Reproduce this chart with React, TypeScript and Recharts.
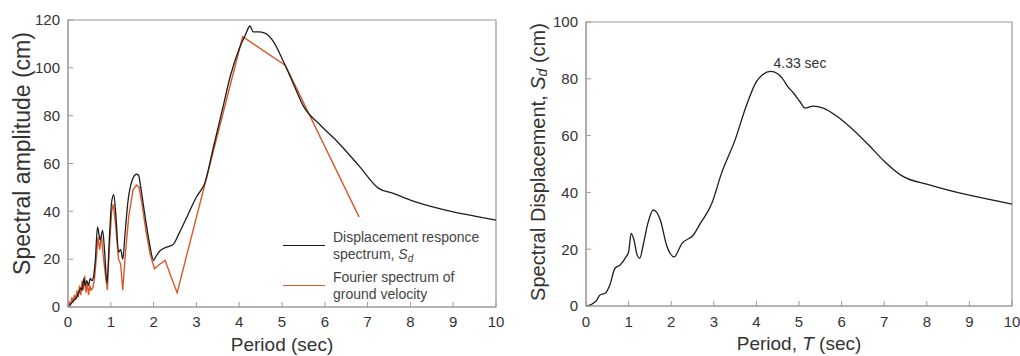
import React from 'react';
import { LineChart, Line, XAxis, YAxis, ReferenceArea, ReferenceDot, Legend } from 'recharts';

// shared period axis
const periodTicks = [0, 1, 2, 3, 4, 5, 6, 7, 8, 9, 10];
const amplitudeTicks = [0, 20, 40, 60, 80, 100, 120];
const displacementTicks = [0, 20, 40, 60, 80, 100];

// left panel: displacement response spectrum (black)
const responsePeriods = [
  0, 0.05, 0.1, 0.15, 0.2, 0.25, 0.3, 0.33, 0.37, 0.4, 0.44, 0.48, 0.52, 0.56, 0.6, 0.64,
  0.69, 0.75, 0.81, 0.86, 0.91, 0.97, 1.02, 1.07, 1.12, 1.18, 1.23, 1.28, 1.33, 1.4, 1.5,
  1.6, 1.65, 1.7, 1.8, 1.9, 2.0, 2.05, 2.15, 2.3, 2.45, 2.6, 2.8, 3.0, 3.2, 3.4, 3.6, 3.8,
  4.0, 4.15, 4.25, 4.33, 4.45, 4.6, 4.8, 5.05, 5.25, 5.5, 5.9, 6.3, 6.8, 7.25, 7.6, 8.0,
  8.5, 9.0, 9.5, 10,
];
const responseAmplitudes = [
  0, 1, 2, 3, 4, 6, 8, 7, 12, 9, 11, 9, 12, 11, 13, 20,
  33.5, 28, 32, 22, 10, 30, 44, 47, 38, 23, 24, 20, 30, 44, 53,
  55.5, 55, 50, 38, 27, 19.5, 21, 23.5, 25, 26, 31, 38.5, 46, 52, 67, 82, 97,
  108, 114, 117.5, 115, 115, 114.5, 111, 102, 94, 84, 76, 69, 59, 49.7, 47.5, 44.7,
  42, 39.8, 38, 36.3,
];

// left panel: Fourier spectrum of ground velocity (orange)
const fourierPeriods = [
  0, 0.03, 0.06, 0.09, 0.12, 0.15, 0.18, 0.21, 0.24, 0.27, 0.3, 0.33, 0.36, 0.39, 0.42,
  0.45, 0.48, 0.51, 0.54, 0.58, 0.62, 0.66, 0.7, 0.74, 0.78, 0.82, 0.87, 0.92, 0.97, 1.02,
  1.06, 1.12, 1.18, 1.23, 1.28, 1.34, 1.42, 1.52, 1.6, 1.66, 1.72, 1.82, 1.92, 2.02, 2.15,
  2.27, 2.4, 2.55, 4.08, 5.08, 6.8,
];
const fourierAmplitudes = [
  0, 2, 1, 4, 2, 5, 3, 7, 4, 9, 5, 11, 7, 13, 6,
  10, 5, 9, 7, 8, 12, 20, 29, 24, 30, 22, 14, 7, 26, 40,
  43, 33, 20, 18, 7, 22, 38, 49, 51, 50, 44, 32, 22, 16, 18,
  19.5, 13, 6, 113, 101, 37.7,
];

// right panel: spectral displacement Sd
const sdPeriods = [
  0, 0.12, 0.25, 0.33, 0.45, 0.56, 0.68, 0.8, 0.94, 1.0, 1.06, 1.13, 1.2, 1.26, 1.35, 1.45,
  1.58, 1.66, 1.75, 1.89, 2.07, 2.25, 2.52, 2.68, 2.95, 3.18, 3.5, 3.77, 4.0, 4.15, 4.33,
  4.5, 4.6, 4.75, 4.87, 5.02, 5.14, 5.33, 5.57, 5.96, 6.59, 7.0, 7.4, 8.08, 9.0, 10,
];
const sdValues = [
  0, 0.5, 2, 3.9, 4.5, 7.4, 13.3, 14.4, 17.3, 19, 25.6, 23, 18, 16.8, 22, 29,
  33.8, 33, 30, 21.5, 17.3, 22, 25, 29, 36, 46.7, 58.5, 70.8, 79, 81.5, 82.6,
  81.8, 80.3, 77, 75, 72, 69.7, 70.4, 69.7, 66, 57.4, 51, 46, 42.6, 39, 35.9,
];
const peakPeriod = 4.33;
const peakValue = 82.6;

const toPoints = (periods: number[], values: number[]) =>
  periods.map((period, i) => ({ period, value: values[i] }));

const responseData = toPoints(responsePeriods, responseAmplitudes);
const fourierData = toPoints(fourierPeriods, fourierAmplitudes);
const sdData = toPoints(sdPeriods, sdValues);

const FONT = '"Liberation Sans", Arial, Helvetica, sans-serif';
const FRAME = '#9a9a9a';
const TEXT = '#333';
const BLACK = '#1e1e1e';
const ORANGE = '#d9582b';

const tickStyle = { fill: TEXT, fontSize: 15, fontFamily: FONT };

const legendItems = [
  { color: BLACK, lines: ['Displacement responce', 'spectrum, '], sub: true },
  { color: ORANGE, lines: ['Fourier spectrum of', 'ground velocity'], sub: false },
];

function SpectrumLegend() {
  return (
    <div style={{ fontFamily: FONT, fontSize: 14, lineHeight: '16.5px', color: '#444' }}>
      {legendItems.map((item, i) => (
        <div key={i} style={{ display: 'flex', alignItems: 'center', marginBottom: 7 }}>
          <div style={{ width: 42, height: 0, borderTop: `1.3px solid ${item.color}`, marginRight: 8 }} />
          <div>
            {item.lines[0]}
            <br />
            {item.lines[1]}
            {item.sub && (
              <i>
                S<span style={{ fontSize: 10, verticalAlign: '-0.3em', lineHeight: 0 }}>d</span>
              </i>
            )}
          </div>
        </div>
      ))}
    </div>
  );
}

function SpectralAmplitudeChart() {
  return (
    <LineChart width={510} height={356} margin={{ top: 20, right: 14, bottom: 0, left: 0 }} style={{ fontFamily: FONT }}>
      <XAxis
        type="number"
        dataKey="period"
        domain={[0, 10]}
        ticks={periodTicks}
        interval={0}
        height={49}
        tickSize={-5}
        tickMargin={14}
        stroke={FRAME}
        tick={tickStyle}
        label={(props: any) => {
          const vb = props.viewBox;
          return (
            <text x={vb.x + vb.width / 2} y={vb.y + 44} textAnchor="middle" fontSize={19} fill={TEXT} fontFamily={FONT}>
              Period (sec)
            </text>
          );
        }}
      />
      <YAxis
        type="number"
        domain={[0, 120]}
        ticks={amplitudeTicks}
        interval={0}
        width={68}
        tickSize={-5}
        tickMargin={13}
        stroke={FRAME}
        tick={tickStyle}
        label={(props: any) => {
          const vb = props.viewBox;
          const cx = 22;
          const cy = vb.y + vb.height / 2 - 10;
          return (
            <text
              x={cx}
              y={cy}
              transform={`rotate(-90 ${cx} ${cy})`}
              textAnchor="middle"
              dominantBaseline="central"
              fontSize={23}
              fill={TEXT}
              fontFamily={FONT}
            >
              Spectral amplitude (cm)
            </text>
          );
        }}
      />
      <ReferenceArea x1={0} x2={10} y1={0} y2={120} fill="none" stroke={FRAME} strokeWidth={1.2} />
      <Line
        data={fourierData}
        dataKey="value"
        type="linear"
        stroke={ORANGE}
        strokeWidth={1.4}
        dot={false}
        isAnimationActive={false}
      />
      <Line
        data={responseData}
        dataKey="value"
        type="monotone"
        stroke={BLACK}
        strokeWidth={1.3}
        dot={false}
        isAnimationActive={false}
      />
      <Legend
        layout="vertical"
        align="center"
        verticalAlign="middle"
        wrapperStyle={{ left: 283, top: 229, width: 220 }}
        content={() => <SpectrumLegend />}
      />
    </LineChart>
  );
}

function SpectralDisplacementChart() {
  return (
    <LineChart width={510} height={356} margin={{ top: 22, right: 8, bottom: 0, left: 0 }} style={{ fontFamily: FONT }}>
      <XAxis
        type="number"
        dataKey="period"
        domain={[0, 10]}
        ticks={periodTicks}
        interval={0}
        height={50}
        tickSize={-5}
        tickMargin={15}
        stroke={FRAME}
        tick={tickStyle}
        label={(props: any) => {
          const vb = props.viewBox;
          return (
            <text x={vb.x + vb.width / 2} y={vb.y + 44} textAnchor="middle" fontSize={19} fill={TEXT} fontFamily={FONT}>
              Period, <tspan fontStyle="italic">T</tspan> (sec)
            </text>
          );
        }}
      />
      <YAxis
        type="number"
        domain={[0, 100]}
        ticks={displacementTicks}
        interval={0}
        width={76}
        tickSize={-5}
        tickMargin={13}
        stroke={FRAME}
        tick={tickStyle}
        label={(props: any) => {
          const vb = props.viewBox;
          const cx = 28;
          const cy = vb.y + vb.height / 2 - 2;
          return (
            <text
              x={cx}
              y={cy}
              transform={`rotate(-90 ${cx} ${cy})`}
              textAnchor="middle"
              dominantBaseline="central"
              fontSize={20}
              fill={TEXT}
              fontFamily={FONT}
            >
              Spectral Displacement, <tspan fontStyle="italic">S</tspan>
              <tspan fontStyle="italic" fontSize={14} dy={4}>d</tspan>
              <tspan dy={-4}> (cm)</tspan>
            </text>
          );
        }}
      />
      <ReferenceArea x1={0} x2={10} y1={0} y2={100} fill="none" stroke={FRAME} strokeWidth={1.2} />
      <Line
        data={sdData}
        dataKey="value"
        type="monotone"
        stroke={BLACK}
        strokeWidth={1.3}
        dot={false}
        isAnimationActive={false}
      />
      <ReferenceDot
        x={peakPeriod}
        y={peakValue}
        r={0}
        fill="none"
        stroke="none"
        label={(props: any) => {
          const vb = props.viewBox;
          return (
            <text x={vb.x + 3} y={vb.y - 3} fontSize={14} fill={TEXT} fontFamily={FONT}>
              {`${peakPeriod} sec`}
            </text>
          );
        }}
      />
    </LineChart>
  );
}

export default function App() {
  return (
    <div style={{ position: 'absolute', left: 0, top: 0, width: 1020, height: 356, background: '#fff', fontFamily: FONT }}>
      <div style={{ position: 'absolute', left: 0, top: 0 }}>
        <SpectralAmplitudeChart />
      </div>
      <div style={{ position: 'absolute', left: 510, top: 0 }}>
        <SpectralDisplacementChart />
      </div>
    </div>
  );
}
